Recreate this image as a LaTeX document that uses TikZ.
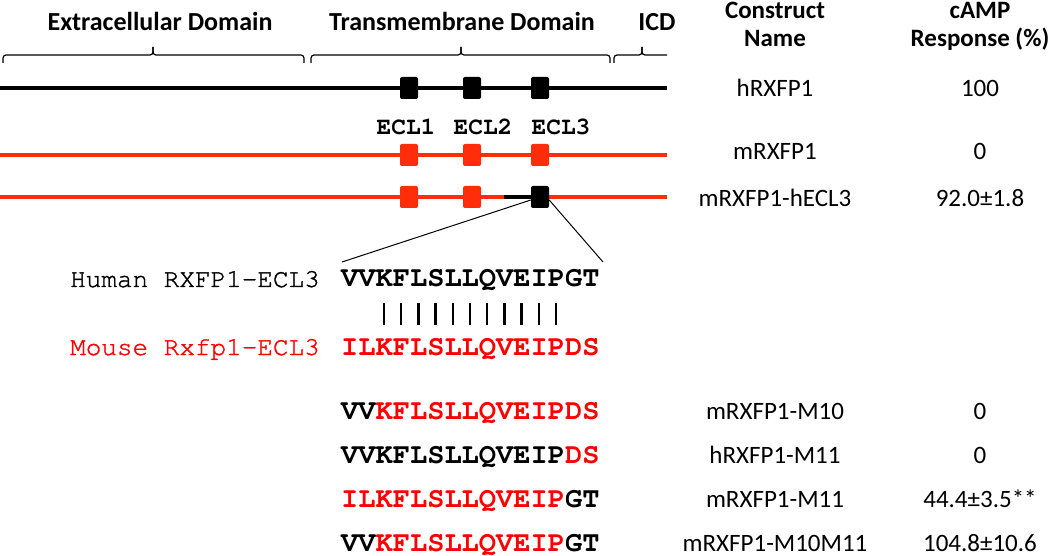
\documentclass[tikz,border=0pt]{standalone}
\usepackage{fontspec}
\setmainfont{Carlito}
\newfontfamily\cour{TeX Gyre Cursor}
\newfontfamily\courlab[FakeBold=1.2]{TeX Gyre Cursor}
\definecolor{txtred}{RGB}{255,0,0}
\definecolor{boxred}{RGB}{255,45,10}
\begin{document}
\begin{tikzpicture}[x=1pt,y=-1pt,
  dom/.style={font=\fontsize{26}{30}\selectfont\bfseries, anchor=base, inner sep=0},
  hdr/.style={font=\fontsize{25}{29}\selectfont\bfseries, anchor=base, inner sep=0},
  cell/.style={font=\fontsize{25}{29}\selectfont, anchor=base, inner sep=0},
  seq/.style={font=\cour\bfseries\fontsize{28.7}{32}\selectfont, anchor=base west, inner sep=0},
  lab/.style={font=\courlab\fontsize{26}{30}\selectfont, anchor=base west, inner sep=0},
  ecl/.style={font=\cour\bfseries\fontsize{24.5}{28}\selectfont, anchor=base, inner sep=0},
  box/.style={rectangle, minimum width=18pt, minimum height=22pt, inner sep=0, rounded corners=2pt},
  bbox/.style={box, fill=black},
  rbox/.style={box, fill=boxred},
  chainline/.style={line width=4pt},
  brk/.style={line width=1.2pt, rounded corners=3pt},
  zoomline/.style={line width=1pt},
  bar/.style={line width=2.4pt},
]
\useasboundingbox (0,0) rectangle (1050,556);

% domain headers and brackets
\node[dom] (hec) at (160,31) {Extracellular Domain};
\node[dom] (htm) at (462,31) {Transmembrane Domain};
\node[dom] (hicd) at (657,31) {ICD};
\draw[brk] (3,63) -- (3,55) -- (153,55) -- (153,47);
\draw[brk] (153,47) -- (153,55) -- (304,55) -- (304,63);
\draw[brk] (311,63) -- (311,55) -- (461,55) -- (461,47);
\draw[brk] (461,47) -- (461,55) -- (610,55) -- (610,63);
\draw[brk] (614,63) -- (614,55) -- (642,55) -- (642,47);
\draw[brk] (642,47) -- (642,55) -- (667,55);

% table headers
\node[hdr] (hc1) at (775,19) {Construct};
\node[hdr] (hc2) at (775,47) {Name};
\node[hdr] (hr1) at (980,19) {cAMP};
\node[hdr] (hr2) at (980,47) {Response (\%)};

% row 1: hRXFP1
\coordinate (r1s) at (0,88);
\coordinate (r1e) at (667,88);
\draw[chainline] (r1s) -- (r1e);
\node[bbox] (a1) at (409,88) {};
\node[bbox] (a2) at (472,88) {};
\node[bbox] (a3) at (540,88) {};
\node[cell] (n1) at (775,97) {hRXFP1};
\node[cell] (v1) at (980,97) {100};

% ECL labels
\node[ecl] (e1) at (406,135) {ECL1};
\node[ecl] (e2) at (483,135) {ECL2};
\node[ecl] (e3) at (561,135) {ECL3};

% row 2: mRXFP1
\coordinate (r2s) at (0,155);
\coordinate (r2e) at (667,155);
\draw[chainline, boxred] (r2s) -- (r2e);
\node[rbox] (b1) at (409,155) {};
\node[rbox] (b2) at (472,155) {};
\node[rbox] (b3) at (540,155) {};
\node[cell] (n2) at (775,160) {mRXFP1};
\node[cell] (v2) at (980,160) {0};

% row 3: mRXFP1-hECL3
\coordinate (r3s) at (0,197);
\coordinate (r3e) at (667,197);
\coordinate (r3k) at (504,197);
\draw[chainline, boxred] (r3s) -- (r3e);
\draw[chainline] (r3k) -- (540,197);
\node[rbox] (c1) at (409,197) {};
\node[rbox] (c2) at (472,197) {};
\node[bbox] (c3) at (540,197) {};
\node[cell] (n3) at (775,207) {mRXFP1-hECL3};
\node[cell] (v3) at (980,207) {92.0±1.8};

% alignment
\node[lab] (hl) at (70,287) {Human RXFP1-ECL3};
\node[seq] (hs) at (341,287) {VVKFLSLLQVEIPGT};
\node[lab, txtred] (ml) at (70,355) {Mouse Rxfp1-ECL3};
\node[seq, txtred] (ms) at (341,355) {ILKFLSLLQVEIPDS};
\foreach \i in {3,...,13}{
  \draw[bar] ({341+17.2*(\i-0.5)},303) -- ({341+17.2*(\i-0.5)},325);
}
\coordinate (zl) at (342,262);
\coordinate (zr) at (603,262);
\draw[zoomline] ([yshift=-3pt]c3.west) -- (zl);
\draw[zoomline] ([yshift=-3pt]c3.east) -- (zr);

% mutant constructs
\node[seq] (s1) at (341,419) {VV\textcolor{txtred}{KFLSLLQVEIPDS}};
\node[cell] (n4) at (775,419) {mRXFP1-M10};
\node[cell] (v4) at (980,419) {0};
\node[seq] (s2) at (341,463) {VVKFLSLLQVEIP\textcolor{txtred}{DS}};
\node[cell] (n5) at (775,463) {hRXFP1-M11};
\node[cell] (v5) at (980,463) {0};
\node[seq] (s3) at (341,507) {\textcolor{txtred}{ILKFLSLLQVEIP}GT};
\node[cell] (n6) at (775,507) {mRXFP1-M11};
\node[cell] (v6) at (980,507) {44.4±3.5**};
\node[seq] (s4) at (341,551) {VV\textcolor{txtred}{KFLSLLQVEIP}GT};
\node[cell] (n7) at (775,551) {mRXFP1-M10M11};
\node[cell] (v7) at (980,551) {104.8±10.6};
\end{tikzpicture}
\end{document}
